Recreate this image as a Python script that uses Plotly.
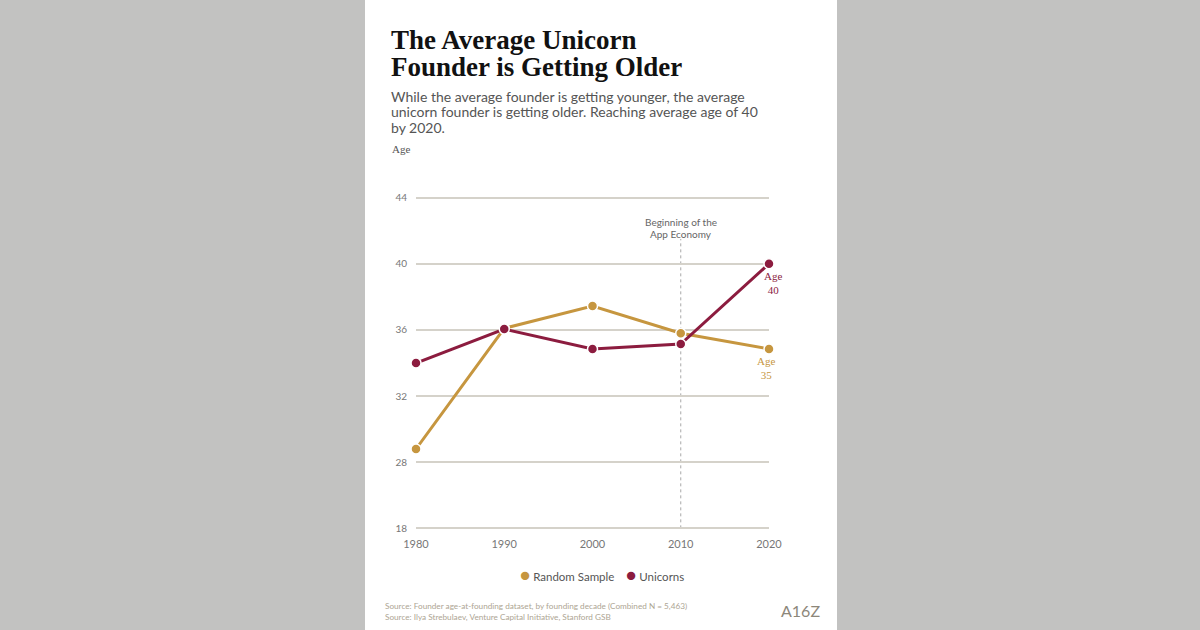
import plotly.graph_objects as go

# ---- data ----
decades = [1980, 1990, 2000, 2010, 2020]
random_sample = [28.8, 36.1, 37.45, 35.8, 34.85]
unicorns = [34.0, 36.05, 34.85, 35.15, 40.0]
y_tick_labels = [18, 28, 32, 36, 40, 44]
event_year = 2010
event_label = ["Beginning of the", "App Economy"]
title_lines = ["The Average Unicorn", "Founder is Getting Older"]
subtitle_lines = [
    "While the average founder is getting younger, the average",
    "unicorn founder is getting older. Reaching average age of 40",
    "by 2020.",
]
sources = [
    "Source: Founder age-at-founding dataset, by founding decade (Combined N = 5,463)",
    "Source: Ilya Strebulaev, Venture Capital Initiative, Stanford GSB",
]

GOLD = "#c6963f"
MAROON = "#8c1c3f"

# broken y axis: 18 -> 28 compressed to same spacing as 4 units
def ty(v):
    return v if v >= 28 else 28 - (28 - v) * 0.4

W, H = 1200, 630
L, R, T, B = 416, 769, 196, 530


def px(x):
    return (x - L) / (R - L)


def py(y):
    return (B - y) / (B - T)


fig = go.Figure()
fig.add_trace(go.Scatter(
    x=decades, y=[ty(v) for v in random_sample], mode="lines+markers",
    line=dict(color=GOLD, width=3),
    marker=dict(size=10, color=GOLD, line=dict(color="white", width=1.5)),
    cliponaxis=False, showlegend=False, name="Random Sample"))
fig.add_trace(go.Scatter(
    x=decades, y=[ty(v) for v in unicorns], mode="lines+markers",
    line=dict(color=MAROON, width=3),
    marker=dict(size=10, color=MAROON, line=dict(color="white", width=1.5)),
    cliponaxis=False, showlegend=False, name="Unicorns"))

shapes = [
    # white panel
    dict(type="rect", xref="paper", yref="paper", x0=px(365), x1=px(837),
         y0=py(630), y1=py(0), fillcolor="white", line=dict(width=0), layer="below"),
    # event line
    dict(type="line", xref="x", yref="y", x0=event_year, x1=event_year,
         y0=ty(18), y1=41.5, line=dict(color="#a8a8a8", width=1, dash="dot"),
         layer="below"),
]

ann = []
for i, t in enumerate(title_lines):
    ann.append(dict(text=f"<b>{t}</b>", xref="paper", yref="paper", x=px(389),
                    y=py(40 + 27 * i), xanchor="left", yanchor="middle", showarrow=False,
                    font=dict(family="Liberation Serif", size=27, color="#111111")))
for i, t in enumerate(subtitle_lines):
    ann.append(dict(text=t, xref="paper", yref="paper", x=px(389),
                    y=py(96 + 15.5 * i), xanchor="left", yanchor="middle", showarrow=False,
                    font=dict(family="Lato", size=14, color="#555555")))
ann.append(dict(text="Age", xref="paper", yref="paper", x=px(390), y=py(149),
                xanchor="left", yanchor="middle", showarrow=False,
                font=dict(family="Liberation Serif", size=11, color="#555555")))
for i, t in enumerate(event_label):
    ann.append(dict(text=t, xref="x", yref="paper", x=event_year, y=py(222 + 12 * i),
                    xanchor="center", yanchor="middle", showarrow=False,
                    font=dict(family="Lato", size=10, color="#666666")))
ann.append(dict(text=f"Age<br>{unicorns[-1]:.0f}", xref="x", yref="y", x=decades[-1],
                y=ty(unicorns[-1]), xshift=4, yshift=-19, xanchor="center", yanchor="middle",
                showarrow=False, font=dict(family="Liberation Serif", size=11, color=MAROON)))
ann.append(dict(text=f"Age<br>{random_sample[-1]:.0f}", xref="x", yref="y", x=decades[-1],
                y=ty(random_sample[-1]), xshift=-3, yshift=-19, xanchor="center",
                yanchor="middle", showarrow=False,
                font=dict(family="Liberation Serif", size=11, color=GOLD)))
ann.append(dict(
    text=f"<span style='color:{GOLD};font-size:17px'>●</span> Random Sample&nbsp;&nbsp;&nbsp; "
         f"<span style='color:{MAROON};font-size:17px'>●</span> Unicorns",
    xref="paper", yref="paper", x=px(602), y=py(574), xanchor="center", yanchor="middle",
    showarrow=False, font=dict(family="Lato", size=11.5, color="#555555")))
for i, t in enumerate(sources):
    ann.append(dict(text=t, xref="paper", yref="paper", x=px(383), y=py(606 + 10.5 * i),
                    xanchor="left", yanchor="middle", showarrow=False,
                    font=dict(family="Lato", size=8.2, color="#ada593")))
ann.append(dict(text="A16Z", xref="paper", yref="paper", x=px(800), y=py(610),
                xanchor="center", yanchor="middle", showarrow=False,
                font=dict(family="Lato", size=16, color="#8d877a")))

fig.update_layout(
    width=W, height=H,
    margin=dict(l=L, r=W - R, t=T, b=H - B, pad=0),
    paper_bgcolor="#c2c2c1", plot_bgcolor="rgba(0,0,0,0)",
    shapes=shapes, annotations=ann,
    xaxis=dict(range=[1980, 2020], tickvals=decades, ticktext=[str(d) for d in decades],
               showgrid=False, zeroline=False, showline=False, ticks="",
               ticklabelstandoff=6,
               tickfont=dict(family="Lato", size=11, color="#777777"), fixedrange=True),
    yaxis=dict(range=[23.9, 44.1], tickvals=[ty(v) for v in y_tick_labels],
               ticktext=[str(v) for v in y_tick_labels], showgrid=True,
               gridcolor="#d5d2ca", gridwidth=1.5, zeroline=False, showline=False,
               ticks="", ticklabelstandoff=8,
               tickfont=dict(family="Lato", size=10, color="#777777"), fixedrange=True),
)

fig.write_html("out.html")
